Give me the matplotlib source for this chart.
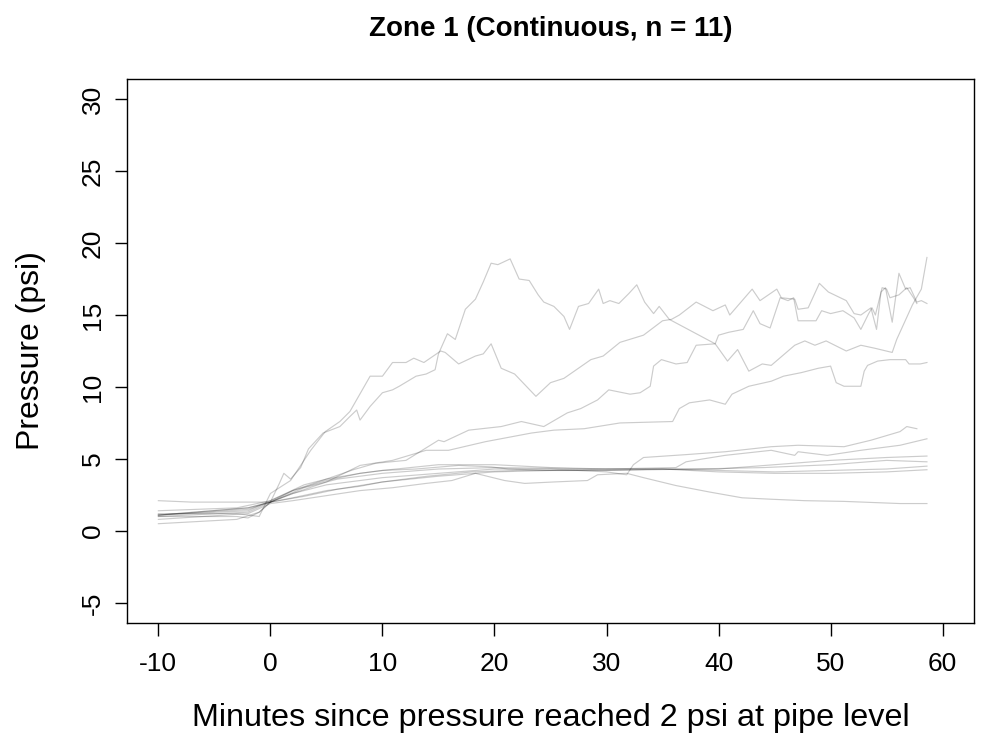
import numpy as np
import matplotlib
matplotlib.use('Agg')
import matplotlib.pyplot as plt

# minutes since 2 psi reached, pressure (psi) -- one pair per trace
a_t = [-10, -3, -2, -1, 0, 0.8, 1.2, 1.8, 2.7, 3.4, 4.7, 6.2, 7.1, 7.7, 8, 8.9, 10, 10.9, 11.5, 13, 13.9, 14.7,
       15, 15.8, 16.5, 17.4, 18.3, 19, 19.7, 20.3, 21.4, 22.2, 23.1, 23.9, 24.4, 25.3, 26.2, 26.7, 27.5, 28.4, 29.3,
       29.7, 30.3, 31.1, 32, 32.7, 33.4, 34.2, 34.7, 35.6, 39.7, 40.8, 41.7, 42.7, 43.9, 44.7, 46.8, 47.7, 48.6,
       49.6, 51.4, 52.7, 53.9, 55.5, 55.9, 57.3, 58.1, 58.6]
a_p = [1.0, 1.0, 0.9, 1.3, 2.0, 3.3, 4.0, 3.6, 4.4, 5.7, 6.8, 7.25, 7.95, 8.4, 7.7, 8.65, 9.6, 9.8, 10.05, 10.75,
       10.9, 11.2, 12.3, 13.7, 13.3, 15.4, 16.1, 17.3, 18.6, 18.5, 18.9, 17.5, 17.4, 16.4, 15.9, 15.6, 14.9, 14.0,
       15.6, 15.8, 16.8, 15.8, 16.0, 15.8, 16.5, 17.1, 15.9, 15.1, 15.6, 14.7, 13.0, 11.8, 12.6, 11.1, 11.6, 11.5,
       12.9, 13.2, 12.9, 13.2, 12.5, 12.9, 12.7, 12.4, 13.3, 15.7, 16.8, 19.0]

b_t = [-10, -3, -2, -1, 0, 1.8, 3.6, 4.9, 6.2, 7.1, 8.9, 10, 10.9, 12.1, 12.8, 13.7, 15.2, 15.6, 16.8, 18.3, 19,
       19.7, 20.6, 21.8, 23.7, 25, 26.2, 28.6, 29.7, 31.2, 33.3, 35, 35.8, 36.5, 38, 39.5, 40.6, 41, 43, 43.7, 45.2,
       45.6, 46.8, 47.1, 48, 49, 49.8, 51.4, 52.1, 52.7, 53.6, 54.1, 54.5, 54.9, 55.5, 56.1, 56.7, 57.1, 57.7,
       58.1, 58.6]
b_p = [1.2, 1.2, 1.1, 1.0, 2.6, 3.5, 5.6, 6.9, 7.6, 8.3, 10.75, 10.75, 11.7, 11.7, 12.0, 11.7, 12.5, 12.4, 11.6,
       12.15, 12.3, 13.0, 11.3, 10.9, 9.35, 10.3, 10.6, 11.9, 12.15, 13.1, 13.6, 14.6, 14.7, 15.0, 15.9, 15.3,
       15.7, 15.0, 16.8, 16.0, 16.8, 16.2, 16.1, 15.4, 15.5, 17.2, 16.6, 16.0, 15.1, 15.0, 15.5, 14.0, 16.6,
       16.9, 14.5, 17.9, 16.8, 16.9, 15.9, 16.0, 15.8]

c_t = [-10, -2, 0, 2, 5, 7.4, 9.4, 12.1, 15, 15.5, 17.7, 20.6, 22.4, 24.4, 26.5, 27.7, 29.2, 30.2, 32.1, 33,
       33.9, 34.2, 34.9, 36.2, 37.2, 38, 39.7, 40, 40.9, 42.2, 43.1, 43.7, 44.6, 45.5, 46.2, 46.7, 47.1, 48.7,
       49.2, 50, 51.1, 52.1, 52.7, 53.4, 53.7, 54, 54.6, 55, 55.3, 56.1, 56.8, 57.4, 57.7]
c_p = [1.1, 1.5, 2.0, 2.8, 3.6, 4.25, 4.7, 4.9, 6.3, 6.2, 7.0, 7.25, 7.6, 7.25, 8.2, 8.5, 9.1, 9.8, 9.5, 9.6,
       10.05, 11.45, 11.9, 11.6, 11.7, 12.9, 13.0, 13.6, 13.8, 14.0, 15.3, 14.4, 14.1, 16.2, 16.0, 16.2, 14.6,
       14.6, 15.3, 15.1, 15.3, 14.8, 14.0, 15.1, 15.5, 15.0, 16.9, 16.8, 16.2, 16.4, 16.9, 16.2, 15.8]

d_t = [-10, -2, 0, 2, 5, 8, 10.9, 13.9, 15.9, 19.2, 23.3, 25.3, 28, 31.2, 35.9, 36.5, 37.4, 39.2, 40.6, 41.2,
       42.7, 44.7, 45.8, 47.4, 48.9, 50, 50.5, 51.2, 52.7, 53, 53.3, 54.2, 55.3, 56.7, 57, 58, 58.6]
d_p = [1.0, 1.3, 2.0, 2.6, 3.4, 4.55, 4.9, 5.6, 5.6, 6.2, 6.8, 7.0, 7.1, 7.5, 7.6, 8.5, 8.9, 9.1, 8.8, 9.5,
       10.05, 10.4, 10.75, 11.0, 11.3, 11.45, 10.3, 10.05, 10.05, 11.1, 11.5, 11.8, 11.9, 11.9, 11.6, 11.6, 11.7]

e_t = [-10, -2, 0, 2, 5, 10, 15, 20, 25, 30, 31.8, 32.4, 33.3, 37.1, 40.6, 44.7, 47.1, 51.2, 53.6, 56.2, 56.8, 57.7]
e_p = [1.1, 1.6, 2.0, 2.6, 3.2, 3.7, 4.0, 4.3, 4.3, 4.1, 3.9, 4.6, 5.1, 5.3, 5.5, 5.85, 5.95, 5.85, 6.3, 6.9,
       7.25, 7.1]

f_t = [-10, -3, 0, 2, 5, 8, 10, 15, 20, 25, 30, 36.2, 37.1, 38.6, 40.6, 44.7, 46.8, 47.1, 49.7, 52.7, 56.2, 58.6]
f_p = [1.4, 1.6, 2.1, 2.8, 3.5, 4.0, 4.2, 4.6, 4.6, 4.4, 4.3, 4.4, 4.8, 5.0, 5.25, 5.6, 5.25, 5.5, 5.25, 5.6,
       5.95, 6.4]

g_t = [-10, -2, 0, 3, 6, 10, 15, 20, 30, 40, 45, 50, 55, 58.6]
g_p = [1.1, 1.6, 2.0, 3.0, 3.6, 4.0, 4.3, 4.4, 4.3, 4.3, 4.6, 4.9, 5.1, 5.2]

h_t = [-10, -7, 0, 2, 5, 8, 10, 14, 18, 22, 30, 38, 44, 50, 55, 58.6]
h_p = [2.1, 2.0, 2.0, 2.3, 2.8, 3.1, 3.4, 3.8, 4.1, 4.2, 4.2, 4.3, 4.4, 4.6, 4.9, 4.8]

i_t = [-10, -3, -1, 0, 3, 6, 10, 15, 20, 25, 30, 35, 40, 45, 50, 55, 58.6]
i_p = [0.5, 0.8, 1.3, 2.0, 2.4, 2.9, 3.4, 3.8, 4.1, 4.2, 4.3, 4.3, 4.2, 4.1, 4.2, 4.3, 4.5]

j_t = [-10, -2, 0, 3, 5, 8, 10, 13, 16.8, 19.7, 21.2, 25, 30, 35, 40, 45, 50, 55, 58.6]
j_p = [1.1, 1.4, 2.1, 3.2, 3.6, 4.0, 4.2, 4.3, 4.55, 4.45, 4.3, 4.2, 4.2, 4.3, 4.1, 4.0, 4.0, 4.1, 4.25]

k_t = [-10, -2, 0, 2, 5, 8, 10.9, 13.9, 16.2, 18.3, 20.9, 22.7, 25.3, 28.3, 29.2, 31.8, 33.3, 36.2, 39.2, 42.1,
       44.7, 47.7, 51.2, 56.2, 58.6]
k_p = [0.8, 1.2, 1.9, 2.1, 2.45, 2.8, 3.0, 3.3, 3.5, 4.0, 3.5, 3.3, 3.4, 3.5, 3.9, 4.0, 3.7, 3.15, 2.7, 2.3,
       2.2, 2.1, 2.05, 1.9, 1.9]

traces = [(a_t, a_p), (b_t, b_p), (c_t, c_p), (d_t, d_p), (e_t, e_p), (f_t, f_p),
          (g_t, g_p), (h_t, h_p), (i_t, i_p), (j_t, j_p), (k_t, k_p)]

plt.rcParams['font.family'] = ['Liberation Sans', 'DejaVu Sans']
plt.rcParams['axes.unicode_minus'] = False

fig = plt.figure(figsize=(9.82, 7.42), dpi=100)
ax = fig.add_axes([127 / 982, 1 - 623 / 742, (974 - 127) / 982, (623 - 79) / 742])

for t, p in traces:
    ax.plot(t, p, color=(0, 0, 0, 0.2), lw=0.85)

# R style: 4% padding around xlim=c(-10,60), ylim=c(-5,30)
ax.set_xlim(-10 - 2.8, 60 + 2.8)
ax.set_ylim(-5 - 1.4, 30 + 1.4)
ax.set_xticks(np.arange(-10, 61, 10))
ax.set_yticks(np.arange(-5, 31, 5))
ax.tick_params(direction='out', length=9, width=1, labelsize=19, color='black')
ax.tick_params(axis='x', pad=12)
ax.tick_params(axis='y', pad=7)
for lab in ax.get_yticklabels():
    lab.set_rotation(90)
    lab.set_va('center')
for s in ax.spines.values():
    s.set_linewidth(1)
    s.set_color('black')

ax.set_xlabel("Minutes since pressure reached 2 psi at pipe level", fontsize=23.3, labelpad=19)
ax.set_ylabel("Pressure (psi)", fontsize=23, labelpad=25)
ax.set_title("Zone 1 (Continuous, n = 11)", fontsize=20, fontweight='bold', pad=31)

plt.savefig("out.png", dpi=100)
